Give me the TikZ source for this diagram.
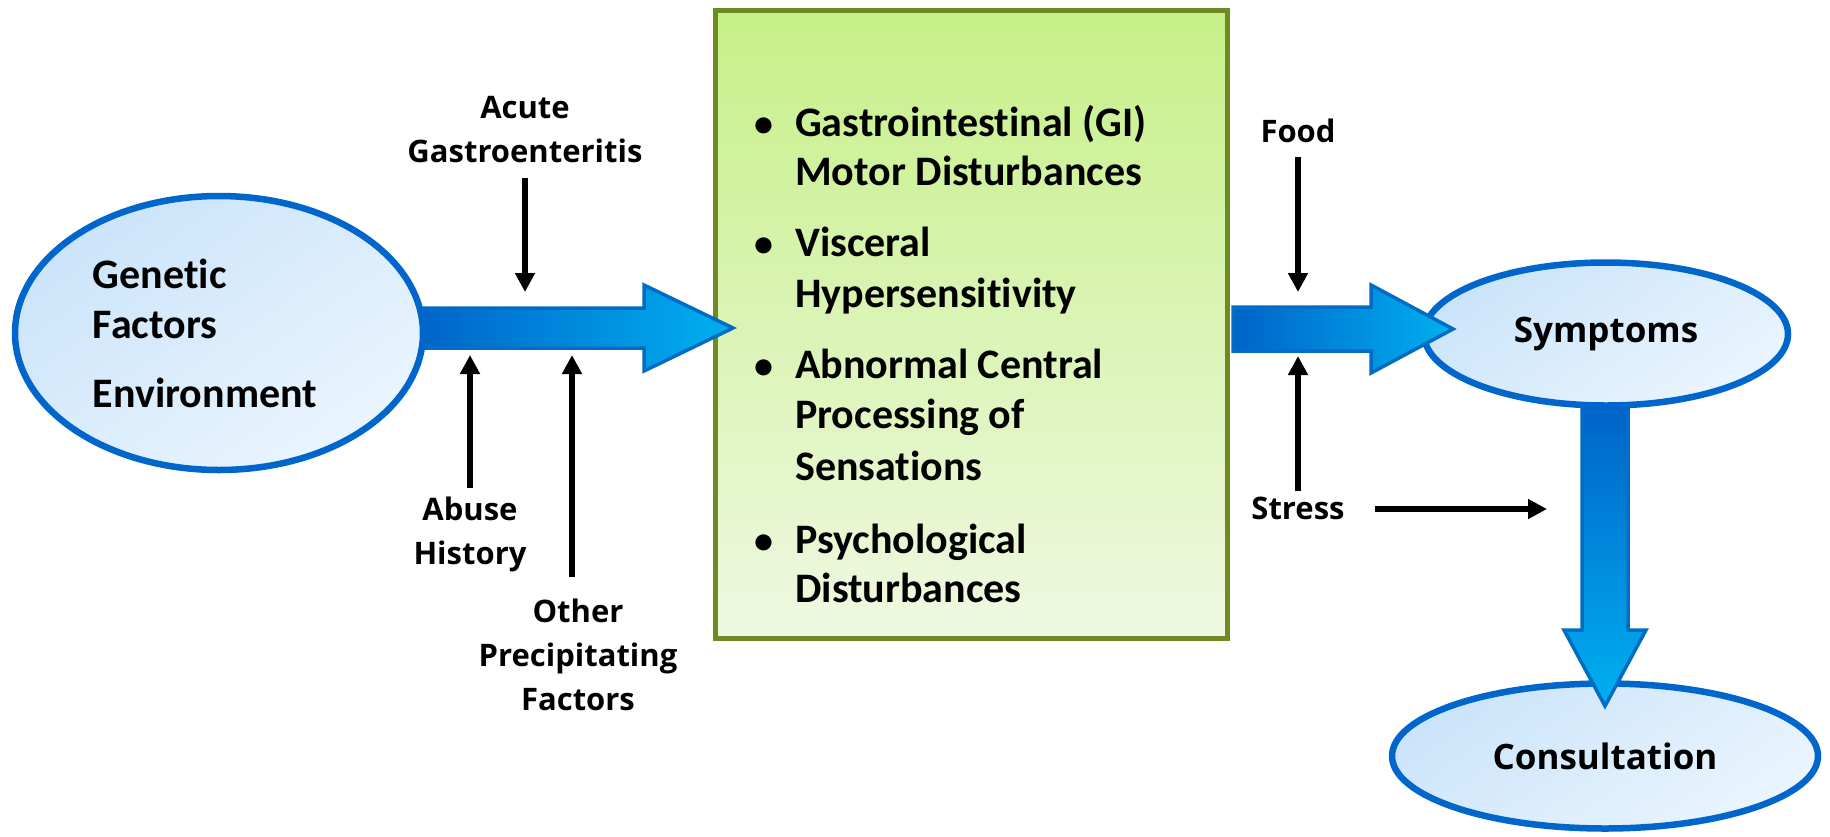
\documentclass[tikz,border=0pt]{standalone}
\usepackage{fontspec}
\setmainfont{Carlito}[Ligatures=NoCommon]
\newfontfamily\lblfont{Open Sans}
\usetikzlibrary{shapes.geometric,arrows.meta,calc}
\definecolor{ellline}{HTML}{0066CC}
\definecolor{ellfillA}{HTML}{CBE4FA}
\definecolor{ellfillB}{HTML}{EAF5FE}
\definecolor{boxline}{HTML}{6F8A22}
\definecolor{boxtop}{HTML}{C6F088}
\definecolor{boxbot}{HTML}{EFF8E2}
\definecolor{arrdark}{HTML}{0063C8}
\definecolor{arrlight}{HTML}{00B0F0}
\definecolor{arrline}{HTML}{006CC4}
\pgfdeclarelayer{bg}\pgfdeclarelayer{mid}\pgfsetlayers{bg,mid,main}
\newcommand\hblock[5]{%
  \path[blockarrow, left color=arrdark, right color=arrlight]
    let \p1=(#1), \p2=(#2) in
    (\x1,\y2+#3pt) -- (\x2-#5pt,\y2+#3pt) -- (\x2-#5pt,\y2+#4pt) -- (\x2,\y2)
    -- (\x2-#5pt,\y2-#4pt) -- (\x2-#5pt,\y2-#3pt) -- (\x1,\y2-#3pt) -- cycle;}
\newcommand\vblock[5]{%
  \path[blockarrow, top color=arrdark, bottom color=arrlight]
    let \p1=(#1), \p2=(#2) in
    (\x2-#3pt,\y1) -- (\x2-#3pt,\y2+#5pt) -- (\x2-#4pt,\y2+#5pt) -- (\x2,\y2)
    -- (\x2+#4pt,\y2+#5pt) -- (\x2+#3pt,\y2+#5pt) -- (\x2+#3pt,\y1) -- cycle;}
\begin{document}
\begin{tikzpicture}[x=1pt,y=-1pt,
  oval/.style={ellipse, draw=ellline, line width=6.5pt, inner sep=0pt,
    top color=ellfillA, bottom color=ellfillB, shading angle=35},
  mainbox/.style={rectangle, draw=boxline, line width=5pt, inner sep=0pt,
    top color=boxtop, bottom color=boxbot},
  blockarrow/.style={draw=arrline, line width=3.5pt, line join=miter},
  big/.style={font=\bfseries\fontsize{42}{50}\selectfont, inner sep=0pt},
  itemline/.style={big, anchor=base west},
  lbl/.style={font=\lblfont\bfseries\fontsize{31}{44}\selectfont, align=center, inner sep=0pt},
  blk/.style={line width=6pt, -{Triangle[width=19pt,length=19pt]}},
]
\useasboundingbox (0,0) rectangle (1830,836);

% main box and consultation (bottom layer)
\begin{pgfonlayer}{bg}
\node[mainbox, minimum width=512pt, minimum height=628pt] (box) at (971.5,324.5) {};
\node[oval, minimum width=426pt, minimum height=145pt,
  font=\lblfont\bfseries\fontsize{35}{42}\selectfont] (cons) at (1605,756) {Consultation};
\end{pgfonlayer}

% ellipses
\node[oval, minimum width=408pt, minimum height=274pt] (gen) at (219,333) {};
\node[big, align=left] (gentext) at (205,333) {Genetic\\Factors\\[19pt]Environment};
\node[oval, minimum width=364pt, minimum height=143pt,
  font=\lblfont\bfseries\fontsize{35}{42}\selectfont] (sym) at (1606,334) {Symptoms};

% tips of the block arrows
\coordinate (tip1) at (733,328);
\coordinate (tip2) at (1453,329);
\coordinate (tip3) at (1605,706);

\begin{pgfonlayer}{mid}
\hblock{$(gen.east)+(-12,0)$}{tip1}{20}{43}{89}
\vblock{$(sym.south)+(0,-4)$}{tip3}{23}{41}{76}
\end{pgfonlayer}
\hblock{$(box.east)+(3,0)$}{tip2}{22}{44}{82}

% bullet items
\foreach \y/\n in {136/b1,256/b2,378/b3,553/b4}
  \node[big, anchor=base, font=\bfseries\fontsize{38}{50}\selectfont] (\n) at (764,\y) {•};
\node[itemline] (i1a) at (795,136) {Gastrointestinal (GI)};
\node[itemline] (i1b) at (795,185) {Motor Disturbances};
\node[itemline] (i2a) at (795,256) {Visceral};
\node[itemline] (i2b) at (795,307) {Hypersensitivity};
\node[itemline] (i3a) at (795,378) {Abnormal Central};
\node[itemline] (i3b) at (795,428) {Processing of};
\node[itemline] (i3c) at (795,480) {Sensations};
\node[itemline] (i4a) at (795,553) {Psychological};
\node[itemline] (i4b) at (795,602) {Disturbances};

% labels
\node[lbl] (acute) at (525,130) {Acute\\Gastroenteritis};
\node[lbl] (abuse) at (470,534) {Abuse\\History};
\node[lbl] (other) at (578,655) {Other\\Precipitating\\Factors};
\node[lbl] (food) at (1298,131) {Food};
\node[lbl] (stress) at (1298,508) {Stress};

% black arrows
\coordinate (acuteend) at (525,292);
\coordinate (abuseend) at (470,355);
\coordinate (otherend) at (572,355);
\coordinate (foodend) at (1298,292);
\coordinate (stressend) at (1298,356);
\coordinate (stresshend) at (1547,509);
\draw[blk, shorten <=15pt] (acute) -- (acuteend);
\draw[blk, shorten <=8pt] (abuse) -- (abuseend);
\draw[blk, shorten <=22pt] (other.north -| otherend) -- (otherend);
\draw[blk, shorten <=14pt] (food) -- (foodend);
\draw[blk, shorten <=5pt] (stress) -- (stressend);
\draw[blk, shorten <=30pt] (stress.east |- stresshend) -- (stresshend);
\end{tikzpicture}
\end{document}
